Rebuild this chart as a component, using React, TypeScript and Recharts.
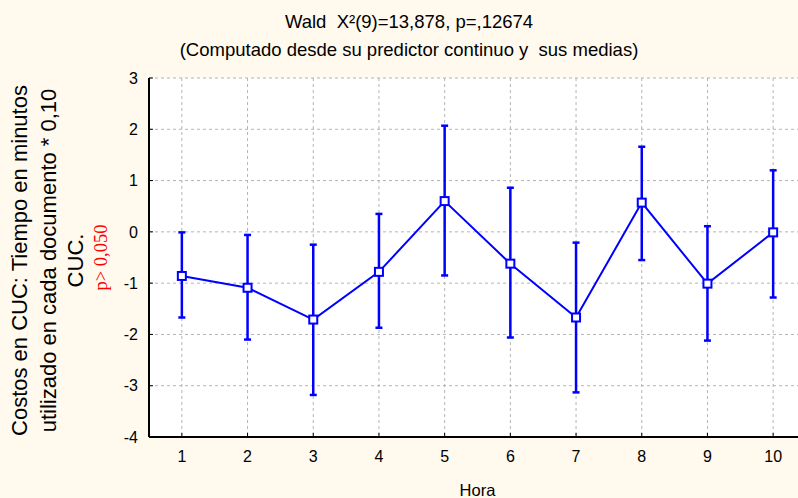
import React from 'react';
import { ComposedChart, Line, XAxis, YAxis, CartesianGrid, ErrorBar, Label } from 'recharts';

// Medias e intervalos
const horas = [1, 2, 3, 4, 5, 6, 7, 8, 9, 10];
const medias = [-0.86, -1.09, -1.71, -0.78, 0.6, -0.62, -1.67, 0.57, -1.01, -0.01];
const limiteInferior = [-1.67, -2.1, -3.18, -1.87, -0.85, -2.06, -3.13, -0.55, -2.12, -1.28];
const limiteSuperior = [-0.01, -0.06, -0.25, 0.35, 2.07, 0.86, -0.21, 1.66, 0.11, 1.2];
const yTicks = [-4, -3, -2, -1, 0, 1, 2, 3];

const titulo = 'Wald  X²(9)=13,878, p=,12674';
const subtitulo = '(Computado desde su predictor continuo y  sus medias)';
const ejeY = ['Costos en CUC: Tiempo en minutos', 'utilizado en cada documento * 0,10', 'CUC.'];
const nota = 'p> 0,050';

const data = horas.map((h, i) => ({
  hora: h,
  media: medias[i],
  err: [medias[i] - limiteInferior[i], limiteSuperior[i] - medias[i]],
}));

const FONT = '"Liberation Sans", Arial, sans-serif';
const BLUE = '#0000ff';

const XTick = (props: any) => {
  const { x, y, payload } = props;
  const axisY = y - 14;
  return (
    <g>
      <line x1={x} y1={axisY} x2={x} y2={axisY - 4} stroke="#000" strokeWidth={1} />
      <text x={x} y={y} dy="0.71em" textAnchor="middle" fontSize={16} fontFamily={FONT} fill="#000">
        {payload.value}
      </text>
    </g>
  );
};

const TopTick = (props: any) => {
  const { x, y } = props;
  return <line x1={x} y1={y} x2={x} y2={y + 4} stroke="#000" strokeWidth={1} />;
};

const YTick = (props: any) => {
  const { x, y, payload } = props;
  const axisX = x + 10;
  return (
    <g>
      <line x1={axisX} y1={y} x2={axisX + 4} y2={y} stroke="#000" strokeWidth={1} />
      <text x={x - 1} y={y} dy="0.355em" textAnchor="end" fontSize={16} fontFamily={FONT} fill="#000">
        {payload.value}
      </text>
    </g>
  );
};

const YLabel = (props: any) => {
  const { viewBox } = props;
  const cy = viewBox.y + viewBox.height / 2 + 3;
  const baselines = [27, 56, 83];
  return (
    <g>
      {ejeY.map((t, i) => (
        <text
          key={i}
          x={baselines[i]}
          y={cy}
          transform={`rotate(-90, ${baselines[i]}, ${cy})`}
          textAnchor="middle"
          fontSize={22}
          fontFamily={FONT}
          fill="#000"
        >
          {t}
        </text>
      ))}
      <text
        x={107}
        y={cy - 3}
        transform={`rotate(-90, 107, ${cy - 3})`}
        textAnchor="middle"
        fontSize={18.5}
        fontFamily='"Liberation Serif", "Times New Roman", serif'
        fill="#ff0000"
      >
        {nota}
      </text>
    </g>
  );
};

const SquareDot = (props: any) => {
  const { cx, cy } = props;
  if (cx == null || cy == null) return null;
  return <rect x={cx - 4} y={cy - 4} width={8} height={8} fill="#fff" stroke={BLUE} strokeWidth={2} />;
};

const tituloStyle: React.CSSProperties = {
  position: 'absolute',
  left: 0,
  width: 818,
  textAlign: 'center',
  fontSize: 18.5,
  color: '#000',
  whiteSpace: 'pre',
  lineHeight: '20px',
};

export default function App() {
  return (
    <div
      style={{
        position: 'fixed',
        left: 0,
        top: 0,
        width: 798,
        height: 498,
        overflow: 'hidden',
        background: '#fff9ee',
        fontFamily: FONT,
      }}
    >
      <div style={{ ...tituloStyle, top: 12 }}>{titulo}</div>
      <div style={{ ...tituloStyle, top: 40 }}>{subtitulo}</div>
      <div style={{ position: 'absolute', left: 0, top: 0 }}>
        <ComposedChart width={830} height={498} data={data} margin={{ top: 78, right: 24, bottom: 0, left: 0 }}>
          <CartesianGrid stroke="#b4b4b4" strokeDasharray="3 3" fill="#ffffff" />
          <XAxis
            dataKey="hora"
            type="number"
            domain={[0.5, 10.5]}
            ticks={horas}
            height={61}
            tickSize={0}
            tickMargin={14}
            tick={<XTick />}
            axisLine={{ stroke: '#000', strokeWidth: 2 }}
            tickLine={false}
          >
            <Label value="Hora" position="insideBottom" offset={2} fontSize={16.5} fontFamily={FONT} fill="#000" />
          </XAxis>
          <XAxis
            xAxisId="top"
            orientation="top"
            dataKey="hora"
            type="number"
            domain={[0.5, 10.5]}
            ticks={horas}
            height={0}
            tickSize={0}
            tickMargin={0}
            tick={<TopTick />}
            axisLine={{ stroke: '#000', strokeWidth: 2 }}
            tickLine={false}
          />
          <YAxis
            type="number"
            domain={[-4, 3]}
            ticks={yTicks}
            width={149}
            tickSize={0}
            tickMargin={10}
            tick={<YTick />}
            axisLine={{ stroke: '#000', strokeWidth: 2 }}
            tickLine={false}
            interval={0}
          >
            <Label content={<YLabel />} />
          </YAxis>
          <Line
            dataKey="media"
            stroke={BLUE}
            strokeWidth={2}
            dot={<SquareDot />}
            activeDot={false}
            isAnimationActive={false}
          >
            <ErrorBar dataKey="err" width={3.5} stroke={BLUE} strokeWidth={2.5} direction="y" isAnimationActive={false} />
          </Line>
        </ComposedChart>
      </div>
    </div>
  );
}
